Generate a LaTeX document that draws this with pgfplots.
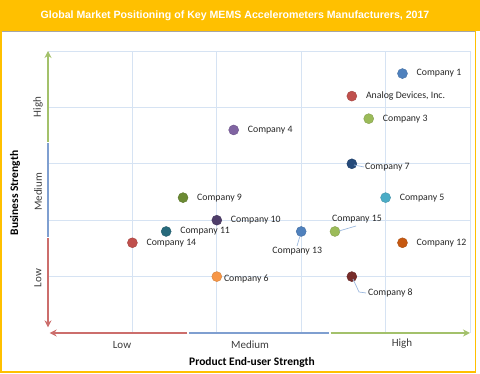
\documentclass[border=0pt]{standalone}
\usepackage{pgfplots}
\pgfplotsset{compat=1.18}
\usetikzlibrary{arrows.meta}
\usepackage{fontspec}
\setmainfont{Carlito}
\newfontfamily\arialfont{Liberation Sans}
\definecolor{gold}{HTML}{FFC000}
\definecolor{gridc}{HTML}{D6E3F3}
\definecolor{arrred}{HTML}{CC6E6C}
\definecolor{arrblue}{HTML}{7F9FD0}
\definecolor{arrgreen}{HTML}{A3C16B}
\definecolor{lbl}{HTML}{262626}
\definecolor{leader}{HTML}{9DB9DE}
\definecolor{cA}{HTML}{4F81BD}
\definecolor{cB}{HTML}{C0504D}
\definecolor{cC}{HTML}{9BBB59}
\definecolor{cD}{HTML}{8064A2}
\definecolor{cE}{HTML}{254A7A}
\definecolor{cF}{HTML}{4BACC6}
\definecolor{cG}{HTML}{6B8A33}
\definecolor{cH}{HTML}{4F3D6A}
\definecolor{cI}{HTML}{276A7C}
\definecolor{cJ}{HTML}{C65911}
\definecolor{cK}{HTML}{F79646}
\definecolor{cL}{HTML}{772C2A}
\newcommand{\comp}[5]{%
  \addplot[only marks, mark=*, mark size=5pt, color=#3,
    mark options={draw=#3!85!black, fill=#3},
    nodes near coords={#4},
    every node near coord/.style={text=lbl, inner sep=0pt, font=\fontsize{9.8}{11}\selectfont, #5}]
    coordinates {(#1,#2)};}
\begin{document}
\begin{tikzpicture}[x=1pt,y=1pt]
\path (0,0) rectangle (480,374);
\fill[gold] (0,343) rectangle (480,374);
\draw[gray!70, line width=0.8pt] (1,342.6) -- (476,342.6);
\draw[gold, line width=1.5pt] (0.75,343) -- (0.75,2.2) -- (475.5,2.2) -- (475.5,343);
\node[text=white, font=\arialfont\bfseries\fontsize{10.6}{12}\selectfont] at (235,358) {Global Market Positioning of Key MEMS Accelerometers Manufacturers, 2017};
\begin{axis}[at={(48pt,41pt)}, anchor=south west, scale only axis,
  width=422pt, height=282pt, xmin=0, xmax=5, ymin=0, ymax=5,
  xtick={1,2,3,4,5}, ytick={1,2,3,4,5}, xticklabels={}, yticklabels={},
  grid=major, major grid style={draw=gridc, line width=0.8pt},
  axis line style={draw=none}, major tick length=0pt, tick style={draw=none},
  clip=false]
\draw[arrred, line width=1.4pt, -{Stealth[length=7pt, width=7pt]}] (axis cs:1.65,0) -- (axis cs:0.02,0);
\draw[arrblue, line width=1.4pt] (axis cs:1.67,0) -- (axis cs:3.33,0);
\draw[arrgreen, line width=1.4pt, -{Stealth[length=7pt, width=7pt]}] (axis cs:3.35,0) -- (axis cs:5,0);
\draw[arrred, line width=1.4pt, -{Stealth[length=7pt, width=7pt]}] (axis cs:0,1.68) -- (axis cs:0,0.1);
\draw[arrblue, line width=1.4pt] (axis cs:0,1.70) -- (axis cs:0,3.37);
\draw[arrgreen, line width=1.4pt, -{Stealth[length=7pt, width=7pt]}] (axis cs:0,3.39) -- (axis cs:0,5);
\comp{4.2}{4.6}{cA}{Company 1}{anchor=west, xshift=14pt}
\comp{3.6}{4.2}{cB}{Analog Devices, Inc.}{anchor=west, xshift=14pt}
\comp{3.8}{3.8}{cC}{Company 3}{anchor=west, xshift=14pt}
\comp{2.2}{3.6}{cD}{Company 4}{anchor=west, xshift=14pt}
\comp{3.6}{3.0}{cE}{Company 7}{anchor=west, xshift=13pt, yshift=-3pt}
\comp{4.0}{2.4}{cF}{Company 5}{anchor=west, xshift=14pt}
\comp{1.6}{2.4}{cG}{Company 9}{anchor=west, xshift=14pt}
\comp{2.0}{2.0}{cH}{Company 10}{anchor=west, xshift=14pt}
\comp{1.4}{1.8}{cI}{Company 11}{anchor=west, xshift=14pt}
\comp{1.0}{1.6}{cB}{Company 14}{anchor=west, xshift=14pt}
\comp{3.0}{1.8}{cA}{Company 13}{anchor=north, xshift=-4pt, yshift=-15pt}
\comp{3.4}{1.8}{cC}{Company 15}{anchor=south, xshift=22pt, yshift=8pt}
\comp{4.2}{1.6}{cJ}{Company 12}{anchor=west, xshift=14pt}
\comp{2.0}{1.0}{cK}{Company 6}{anchor=west, xshift=7pt, yshift=-2pt}
\comp{3.6}{1.0}{cL}{Company 8}{anchor=west, xshift=16pt, yshift=-16pt}
\end{axis}
% leader lines (picture coords, y = 374 - pixel row)
\draw[leader, line width=0.7pt] (354,209) -- (364,207);
\draw[leader, line width=0.7pt] (300,138) -- (297,128);
\draw[leader, line width=0.7pt] (339,143) -- (356,148);
\draw[leader, line width=0.7pt] (353,95) -- (359,82) -- (366,81);
% category labels
\begin{scope}[every node/.style={text=lbl!90, font=\fontsize{11}{13}\selectfont}]
\node at (122,29) {Low};
\node at (250,29) {Medium};
\node at (402,30) {High};
\node[rotate=90] at (38,267) {High};
\node[rotate=90] at (38,182) {Medium};
\node[rotate=90] at (38,96) {Low};
\end{scope}
\node[text=black, font=\bfseries\fontsize{11.5}{13}\selectfont] at (252,12) {Product End-user Strength};
\node[text=black, rotate=90, font=\bfseries\fontsize{11.5}{13}\selectfont] at (15,181) {Business Strength};
\end{tikzpicture}
\end{document}
